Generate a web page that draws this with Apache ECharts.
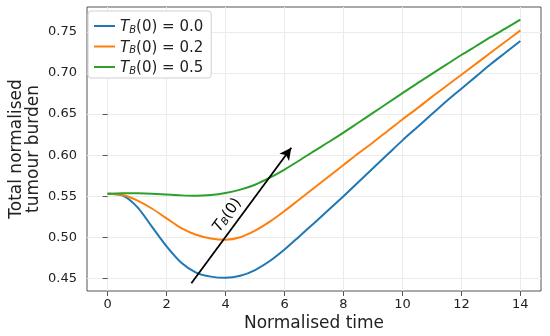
<!DOCTYPE html>
<html><head><meta charset="utf-8">
<script src="https://cdn.jsdelivr.net/npm/echarts@6/dist/echarts.min.js"></script>
<style>html,body{margin:0;padding:0;background:#fff}#c{width:550px;height:336px}</style>
</head><body><div id="c"></div>
<script>
const timePoints = [0,0.5,1,1.5,2,2.5,3,3.5,4,4.5,5,5.5,6,6.5,7,7.5,8,8.5,9,9.5,10,10.5,11,11.5,12,12.5,13,13.5,14];
const tbValues = ['0.0','0.2','0.5'];
const burdenTB00 = [0.553,0.551,0.537,0.513,0.489,0.469,0.457,0.452,0.4505,0.453,0.460,0.471,0.485,0.501,0.517,0.5335,0.550,0.567,0.584,0.601,0.618,0.634,0.650,0.666,0.681,0.696,0.711,0.725,0.739];
const burdenTB02 = [0.553,0.5515,0.545,0.535,0.523,0.511,0.503,0.4985,0.497,0.500,0.508,0.519,0.532,0.546,0.560,0.574,0.588,0.602,0.6155,0.6295,0.6435,0.657,0.671,0.6845,0.698,0.7115,0.725,0.7385,0.752];
const burdenTB05 = [0.553,0.5537,0.5535,0.553,0.552,0.551,0.5505,0.5515,0.554,0.558,0.564,0.5725,0.5825,0.5935,0.605,0.616,0.6275,0.6395,0.6515,0.6635,0.6755,0.6875,0.699,0.7105,0.722,0.733,0.744,0.7545,0.765];
const xTicks = [0,2,4,6,8,10,12,14];
const yTicks = [0.45,0.50,0.55,0.60,0.65,0.70,0.75];
const arrowStart = [2.84, 0.444];
const arrowEnd = [6.23, 0.609];
const colors = ['#1f77b4','#ff7f0e','#2ca02c'];
const allSeries = [burdenTB00, burdenTB02, burdenTB05];

const FONT = 'DejaVu Sans';
const chart = echarts.init(document.getElementById('c'), null, {renderer:'canvas'});
const names = tbValues.map(v => 'TB0=' + v);

const series = allSeries.map((vals, i) => ({
  name: names[i],
  type: 'line',
  data: timePoints.map((x, j) => [x, vals[j]]),
  showSymbol: false,
  smooth: 0.3,
  lineStyle: {color: colors[i], width: 2},
  itemStyle: {color: colors[i]},
  z: 3
}));
series.push({
  type: 'line',
  data: [],
  silent: true,
  markLine: {
    silent: true,
    animation: false,
    symbol: ['none', 'arrow'],
    symbolSize: [9, 12],
    lineStyle: {color: '#000', width: 1.8, type: 'solid'},
    label: {
      show: true,
      position: 'middle',
      distance: 4,
      formatter: '{t|T}{s|B}{n|(0)}{g|}',
      rich: {
        t: {fontFamily: FONT, fontSize: 15, fontStyle: 'italic', color: '#000', lineHeight: 17, verticalAlign: 'bottom'},
        s: {fontFamily: FONT, fontSize: 10, fontStyle: 'italic', color: '#000', lineHeight: 14, verticalAlign: 'bottom'},
        n: {fontFamily: FONT, fontSize: 15, color: '#000', lineHeight: 17, verticalAlign: 'bottom'},
        g: {width: 16, lineHeight: 17}
      }
    },
    data: [[{coord: arrowStart}, {coord: arrowEnd}]]
  },
  z: 5
});

chart.setOption({
  animation: false,
  backgroundColor: '#fff',
  grid: {left: 87, right: 9, top: 7, bottom: 45, show: true, borderColor: '#555', borderWidth: 1, backgroundColor: 'transparent', containLabel: false, outerBoundsMode: 'none'},
  legend: {
    left: 88, top: 11,
    orient: 'vertical',
    icon: 'rect',
    itemWidth: 21, itemHeight: 2,
    itemGap: 5.5,
    padding: [9, 8, 2, 6],
    backgroundColor: '#fff',
    borderColor: '#d0d0d0', borderWidth: 1, borderRadius: 3,
    data: names,
    formatter: function (name) {
      const v = name.split('=')[1];
      return '{t|T}{s|B}{n|(0) = ' + v + '}';
    },
    textStyle: {
      rich: {
        t: {fontFamily: FONT, fontSize: 15, fontStyle: 'italic', color: '#222', lineHeight: 18, verticalAlign: 'bottom'},
        s: {fontFamily: FONT, fontSize: 10, fontStyle: 'italic', color: '#222', lineHeight: 14, verticalAlign: 'bottom'},
        n: {fontFamily: FONT, fontSize: 15, color: '#222', lineHeight: 18, verticalAlign: 'bottom'}
      }
    }
  },
  xAxis: {
    type: 'value', min: -0.7, max: 14.7,
    name: 'Normalised time', nameLocation: 'middle', nameGap: 24, nameMoveOverlap: false,
    nameTextStyle: {fontFamily: FONT, fontSize: 17, color: '#222'},
    axisLine: {show: false},
    axisTick: {show: true, length: 5, lineStyle: {color: '#555'}, customValues: xTicks},
    axisLabel: {fontFamily: FONT, fontSize: 13, color: '#222', margin: 7, customValues: xTicks, formatter: v => String(v)},
    splitLine: {show: true, lineStyle: {color: '#ebebeb', width: 1}}
  },
  yAxis: {
    type: 'value', min: 0.4345, max: 0.7805,
    name: 'Total normalised\ntumour burden', nameLocation: 'middle', nameGap: 45, nameRotate: 90, nameMoveOverlap: false,
    nameTextStyle: {fontFamily: FONT, fontSize: 17, color: '#222', lineHeight: 17},
    axisLine: {show: false},
    axisTick: {show: true, length: 5, lineStyle: {color: '#555'}, customValues: yTicks},
    axisLabel: {fontFamily: FONT, fontSize: 13, color: '#222', margin: 10, customValues: yTicks, formatter: v => v.toFixed(2)},
    splitLine: {show: true, lineStyle: {color: '#ebebeb', width: 1}}
  },
  series: series
});
</script>
</body></html>
